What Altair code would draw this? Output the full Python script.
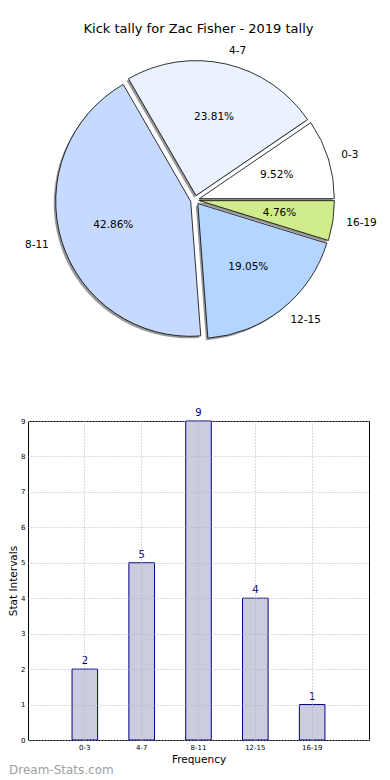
import altair as alt
import pandas as pd

# ---- data ----
categories = ["0-3", "4-7", "8-11", "12-15", "16-19"]
counts = [2, 5, 9, 4, 1]
order_idx = [0, 1, 2, 3, 4]
pie_colors = ["#ffffff", "#eaf2ff", "#c6d9ff", "#b3d5ff", "#d0ec8c"]
y_ticks = [0, 1, 2, 3, 4, 5, 6, 7, 8, 9]
title_text = "Kick tally for Zac Fisher - 2019 tally"
watermark = ["Dream-Stats.com"]

df = pd.DataFrame({"cat": categories, "count": counts, "idx": order_idx})

# ---- layout constants ----
P = 29          # page x of plot left
T = 51          # page y of pie view top (approx)
W = 370 - P
R = 135
EX = 4.5
CX = 196 - P
CY = 199 - T
H1 = 350
H2 = 319

base = (
    alt.Chart(df)
    .transform_joinaggregate(total="sum(count)")
    .transform_window(cum="sum(count)", sort=[alt.SortField("idx", order="descending")], frame=[None, 0])
    .transform_calculate(t1="PI/2 + 2*PI*datum.cum/datum.total")
    .transform_calculate(t0="datum.t1 - 2*PI*datum.count/datum.total")
    .transform_calculate(mid="(datum.t0 + datum.t1)/2")
    .transform_calculate(sx="sin(datum.mid)", sy="-cos(datum.mid)")
    .transform_calculate(px=f"{CX} + {EX}*datum.sx", py=f"{CY} + {EX}*datum.sy")
    .transform_calculate(
        shx="datum.px - 2", shy="datum.py + 2",
        lx=f"datum.px + {1.1*R}*datum.sx", ly=f"datum.py + {1.1*R}*datum.sy",
        qx=f"datum.px + {0.6*R}*datum.sx", qy=f"datum.py + {0.6*R}*datum.sy",
        pct="format(100*datum.count/datum.total, '.2f') + '%'",
    )
)

shadow = base.mark_arc(radius=R, fill="#999999").encode(
    theta=alt.Theta("t0:Q", scale=None),
    theta2="t1:Q",
    x=alt.X("shx:Q", scale=None, axis=None),
    y=alt.Y("shy:Q", scale=None, axis=None),
)
slices = base.mark_arc(radius=R, stroke="black", strokeWidth=0.8).encode(
    theta=alt.Theta("t0:Q", scale=None),
    theta2="t1:Q",
    x=alt.X("px:Q", scale=None, axis=None),
    y=alt.Y("py:Q", scale=None, axis=None),
    color=alt.Color("cat:N", scale=alt.Scale(domain=categories, range=pie_colors), legend=None),
)
lab_left = base.transform_filter("datum.sx >= 0").mark_text(
    align="left", baseline="middle", fontSize=10.5, color="black"
).encode(x=alt.X("lx:Q", scale=None, axis=None), y=alt.Y("ly:Q", scale=None, axis=None), text="cat:N")
lab_right = base.transform_filter("datum.sx < 0").mark_text(
    align="right", baseline="middle", fontSize=10.5, color="black"
).encode(x=alt.X("lx:Q", scale=None, axis=None), y=alt.Y("ly:Q", scale=None, axis=None), text="cat:N")
pct = base.mark_text(align="center", baseline="middle", fontSize=10.5, color="black").encode(
    x=alt.X("qx:Q", scale=None, axis=None), y=alt.Y("qy:Q", scale=None, axis=None), text="pct:N"
)

pie = alt.layer(shadow, slices, lab_left, lab_right, pct).properties(
    width=W, height=H1,
    title=alt.Title(title_text, fontSize=13, fontWeight="normal", anchor="middle", offset=10, color="black"),
    view=alt.ViewBackground(stroke=None),
)

grid_kw = dict(grid=True, gridDash=[1, 2], gridColor="#b4b4b4", gridWidth=1, ticks=False, domain=False,
               zindex=1, labelColor="black", titleColor="black", titleFontWeight="normal", titleFontSize=10.5,
               labelFontSize=7, labelOverlap=False)

x_enc = alt.X("cat:N", sort=categories, scale=alt.Scale(paddingInner=0, paddingOuter=0.5),
              axis=alt.Axis(title="Frequency", labelAngle=0, labelPadding=3, titlePadding=4, **grid_kw))
y_enc = alt.Y("count:Q", scale=alt.Scale(domain=[0, 9], nice=False),
              axis=alt.Axis(title="Stat Intervals", values=y_ticks, tickCount=20, format="d",
                            labelPadding=3, titlePadding=2, **grid_kw))

bars = alt.Chart(df).mark_bar(width=alt.RelativeBandSize(0.45), fill="#ccccdf", stroke="#000080", strokeWidth=1).encode(
    x=x_enc, y=y_enc,
)
vals = alt.Chart(df).mark_text(dy=-8, color="#000080", fontSize=10).encode(
    x=x_enc, y=y_enc, text="count:Q"
)
wm = alt.Chart(pd.DataFrame({"t": watermark})).mark_text(
    align="left", baseline="middle", fontSize=12, color="#a0a0a0"
).encode(text="t:N", x=alt.value(-19), y=alt.value(H2 + 30))

bar_chart = alt.layer(bars, vals, wm).properties(
    width=W, height=H2, view=alt.ViewBackground(stroke="black", strokeWidth=1)
)

chart = alt.vconcat(pie, bar_chart, spacing=5).properties(
    padding={"left": 0, "top": 14, "right": 0, "bottom": 0}
).configure(font="DejaVu Sans").configure_view(stroke=None)

chart.save("out.html", embed_options={"renderer": "svg", "actions": False})
